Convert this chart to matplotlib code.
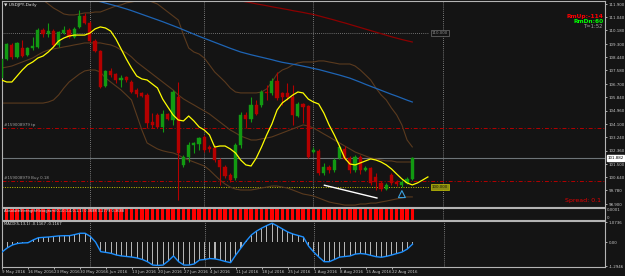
import matplotlib
matplotlib.use("Agg")
import matplotlib.pyplot as plt
import matplotlib.transforms as mtrans
import numpy as np
import pandas as pd

# --- Colours ---
BG = "#141414"
FG = "#c8c8c8"
BULL = "#129a12"
BEAR = "#b40000"
TINY = 2.9

# --- Data ---
dates = pd.bdate_range("2016-05-09", "2016-08-26")

open_ = [107.09, 108.33, 109.24, 108.46, 109.04, 108.59, 109.04, 109.11, 110.21, 109.95,
         110.14, 109.24, 110.01, 110.21, 109.76, 110.41, 111.12, 110.67, 109.50, 108.85,
         106.57, 107.55, 107.35, 106.96, 107.16, 106.83, 106.31, 106.12, 105.98, 104.23,
         104.69, 103.91, 104.75, 104.36, 105.85, 101.44, 101.96, 102.74, 102.80, 103.26,
         102.61, 102.54, 101.76, 101.31, 100.79, 100.59, 102.74, 104.69, 104.43, 105.33,
         105.33, 106.18, 106.12, 106.90, 106.12, 106.12, 105.85, 104.62, 105.40, 105.27,
         102.28, 102.35, 100.92, 101.31, 101.11, 101.89, 102.48, 101.89, 101.11, 101.96,
         101.11, 101.24, 100.66, 100.27, 99.88, 100.79, 100.33, 100.14, 100.27, 100.53]
high = [108.39, 109.37, 109.37, 109.43, 109.56, 109.11, 109.76, 110.34, 110.34, 110.67,
        110.28, 110.14, 110.47, 110.34, 110.41, 111.51, 111.32, 110.80, 109.63, 108.91,
        107.61, 107.74, 107.42, 107.29, 107.22, 106.96, 106.44, 106.18, 106.12, 104.82,
        104.82, 105.01, 104.82, 106.31, 106.83, 102.09, 102.93, 102.93, 103.26, 103.39,
        102.74, 102.74, 101.89, 101.44, 100.92, 102.87, 104.88, 104.88, 105.85, 105.66,
        106.31, 106.64, 107.09, 107.48, 106.18, 106.77, 106.64, 105.53, 105.47, 105.33,
        102.61, 102.48, 101.57, 101.44, 101.89, 102.74, 102.67, 102.02, 102.09, 102.09,
        101.37, 101.31, 100.92, 100.40, 100.27, 100.92, 100.46, 100.46, 100.66, 101.96]
low = [106.96, 108.26, 108.33, 108.39, 108.46, 108.52, 108.91, 109.04, 109.76, 109.76,
       109.11, 109.11, 109.95, 109.69, 109.69, 110.34, 110.60, 109.43, 108.78, 106.44,
       106.51, 107.16, 106.77, 106.51, 106.83, 106.12, 105.85, 105.85, 103.84, 103.84,
       103.84, 103.58, 104.36, 104.04, 99.16, 101.31, 101.63, 102.22, 102.41, 102.28,
       102.28, 101.63, 100.14, 100.59, 100.33, 100.46, 102.54, 103.84, 104.23, 104.69,
       105.20, 105.66, 105.98, 105.66, 105.33, 105.66, 104.04, 104.56, 104.17, 101.90,
       102.22, 100.79, 100.79, 100.92, 100.98, 101.83, 101.76, 100.92, 100.98, 100.85,
       101.05, 100.14, 99.81, 99.75, 99.81, 100.14, 100.08, 100.01, 100.20, 100.46]
close = [108.33, 109.30, 108.46, 109.37, 108.52, 109.04, 109.17, 110.21, 109.95, 110.14,
         109.24, 110.08, 110.21, 109.76, 110.28, 111.12, 110.67, 109.50, 108.85, 106.51,
         107.55, 107.29, 106.96, 107.09, 106.96, 106.18, 106.05, 105.92, 104.17, 104.04,
         103.91, 104.75, 104.43, 106.18, 102.22, 101.96, 102.74, 102.87, 103.19, 102.41,
         102.48, 101.76, 101.31, 100.72, 100.46, 102.74, 104.69, 104.43, 105.33, 104.75,
         106.18, 106.12, 106.90, 105.79, 105.85, 105.85, 104.69, 105.40, 105.20, 101.96,
         102.41, 100.92, 101.31, 101.11, 101.76, 102.61, 101.83, 101.11, 101.96, 101.11,
         101.24, 100.27, 100.33, 99.88, 100.14, 100.27, 100.20, 100.33, 100.53, 101.88]

# yellow MA is shifted 3 bars forward, so it has 83 points
ma_fast = [106.96, 106.83, 106.83, 107.22, 107.61, 107.94, 108.13, 108.39, 108.52, 108.78,
           109.11, 109.50, 109.69, 109.82, 109.88, 109.88, 109.88, 110.01, 110.28, 110.41,
           110.34, 110.14, 109.63, 108.98, 108.33, 107.74, 107.22, 107.03, 106.96, 106.70,
           106.44, 105.72, 105.20, 104.69, 104.36, 104.30, 104.62, 104.30, 103.91, 103.71,
           103.39, 102.60, 102.67, 102.67, 102.48, 102.22, 101.76, 101.44, 101.37, 101.89,
           102.60, 103.39, 104.10, 105.01, 105.47, 105.72, 105.98, 106.18, 106.12, 105.72,
           105.53, 105.40, 104.81, 104.04, 103.39, 102.67, 101.89, 101.50, 101.44, 101.57,
           101.70, 101.83, 101.76, 101.63, 101.44, 101.18, 100.85, 100.53, 100.27, 100.14,
           100.27, 100.46, 100.66]

ma_blue = [np.nan] * 16 + [
    112.30, 112.20, 112.13, 112.05, 111.96, 111.87, 111.78, 111.68, 111.58, 111.47,
    111.35, 111.23, 111.11, 110.99, 110.87, 110.75, 110.62, 110.49, 110.36, 110.22,
    110.08, 109.94, 109.80, 109.67, 109.54, 109.41, 109.28, 109.15, 109.02, 108.90,
    108.78, 108.69, 108.60, 108.52, 108.44, 108.36, 108.28, 108.19, 108.11, 108.05,
    107.99, 107.93, 107.86, 107.79, 107.71, 107.64, 107.55, 107.46, 107.37, 107.28,
    107.18, 107.08, 106.95, 106.82, 106.68, 106.55, 106.42, 106.29, 106.16, 106.03,
    105.91, 105.78, 105.65, 105.53]

ma_red = [np.nan] * 44 + [
    112.25, 112.18, 112.10, 112.04, 111.98, 111.91, 111.85, 111.79, 111.72, 111.66,
    111.60, 111.54, 111.47, 111.41, 111.35, 111.28, 111.22, 111.13, 111.04, 110.95,
    110.86, 110.76, 110.67, 110.57, 110.47, 110.37, 110.27, 110.17, 110.07, 109.97,
    109.87, 109.77, 109.68, 109.59, 109.51, 109.43]

bb_upper = [112.60, 112.60, 112.60, 112.60, 112.60, 112.60, 112.60, 112.60, 112.16, 111.90,
            111.64, 111.45, 111.25, 111.19, 111.19, 111.25, 111.32, 111.32, 111.38, 111.38,
            111.51, 111.64, 111.77, 111.84, 111.97, 112.03, 112.10, 112.16, 112.16, 112.03,
            111.90, 111.64, 111.38, 111.12, 110.86, 109.89, 109.04, 108.78, 108.65, 108.39,
            107.94, 107.48, 107.16, 106.83, 106.44, 106.18, 106.12, 106.12, 106.12, 106.12,
            106.18, 106.38, 106.83, 107.35, 107.61, 107.74, 107.94, 108.07, 108.13, 108.13,
            108.13, 108.20, 108.20, 108.13, 108.07, 108.00, 108.00, 108.00, 107.87, 107.61,
            107.29, 106.96, 106.44, 105.99, 105.66, 105.14, 104.69, 104.04, 103.06, 102.61]
bb_mid = [107.74, 107.80, 107.87, 108.00, 108.13, 108.26, 108.39, 108.59, 108.78, 108.91,
          108.98, 109.04, 109.11, 109.17, 109.24, 109.30, 109.37, 109.37, 109.37, 109.37,
          109.30, 109.24, 109.11, 108.91, 108.72, 108.46, 108.13, 107.87, 107.61, 107.35,
          107.09, 106.83, 106.57, 106.31, 105.99, 105.73, 105.53, 105.34, 105.14, 104.95,
          104.75, 104.49, 104.23, 103.97, 103.71, 103.52, 103.32, 103.19, 103.06, 103.06,
          103.13, 103.19, 103.26, 103.39, 103.52, 103.65, 103.78, 103.91, 104.04, 103.97,
          103.84, 103.65, 103.45, 103.26, 103.06, 102.87, 102.67, 102.48, 102.28, 102.15,
          102.02, 101.89, 101.83, 101.76, 101.70, 101.70, 101.63, 101.63, 101.63, 101.63]
bb_lower = [105.46, 105.46, 105.46, 105.46, 105.46, 105.46, 105.46, 105.46, 105.46, 105.53,
            105.66, 105.99, 106.44, 106.83, 107.09, 107.35, 107.55, 107.61, 107.61, 107.48,
            107.09, 106.83, 106.57, 106.31, 105.99, 105.66, 104.69, 103.71, 102.87, 102.67,
            102.48, 102.36, 102.28, 102.22, 102.09, 101.89, 101.76, 101.63, 101.50, 101.37,
            101.11, 100.78, 100.46, 100.20, 100.00, 99.87, 99.81, 99.81, 99.81, 99.87,
            99.94, 100.00, 100.07, 100.07, 100.00, 99.94, 99.81, 99.68, 99.55, 99.49,
            99.42, 99.29, 99.16, 99.03, 98.96, 98.90, 98.83, 98.83, 98.83, 98.90,
            98.90, 98.96, 98.96, 99.03, 99.09, 99.16, 99.23, 99.29, 99.36, 99.36]

macd = [-0.54, -0.32, -0.16, -0.08, -0.05, -0.04, 0.11, 0.23, 0.25, 0.27,
        0.30, 0.33, 0.34, 0.34, 0.40, 0.47, 0.47, 0.30, 0.00, -0.52,
        -0.56, -0.61, -0.70, -0.75, -0.78, -0.81, -0.86, -0.94, -1.06, -1.24,
        -1.26, -1.24, -1.02, -0.75, -1.06, -1.24, -1.24, -1.18, -0.97, -0.94,
        -0.89, -0.91, -0.97, -1.05, -1.11, -0.70, -0.32, 0.05, 0.38, 0.59,
        0.75, 0.89, 1.01, 0.86, 0.70, 0.54, 0.43, 0.35, 0.27, -0.22,
        -0.54, -0.81, -1.06, -1.06, -0.94, -0.81, -0.78, -0.75, -0.65, -0.62,
        -0.65, -0.72, -0.79, -0.82, -0.77, -0.70, -0.62, -0.54, -0.38, -0.12]

strength = [1.0] * len(dates)   # every bar of the histogram is full height

price_ticks = [111.900, 111.040, 110.180, 109.300, 108.440, 107.580, 106.700, 105.840,
               104.960, 104.100, 103.240, 102.360, 101.500, 100.640, 99.780, 98.900]
bid = 101.882
tp_level = 103.84
buy_level = 100.39
hline_grey = 110.000
hline_yellow = 100.000
future_separator = 85

# --- Figure ---
fig = plt.figure(figsize=(6.25, 2.76), dpi=100, facecolor=BG)
W, H = 625, 276


def px_axes(x0, y0, x1, y1):
    return fig.add_axes([x0 / W, 1 - y1 / H, (x1 - x0) / W, (y1 - y0) / H])


ax = px_axes(2, 1, 605, 207)
axh = px_axes(2, 208, 605, 220)
axm = px_axes(2, 221, 605, 267)

idx = np.arange(len(dates))
xlim = (0.1, 116.06)
seps = [i for i in range(1, len(dates)) if dates[i].month != dates[i - 1].month] + [future_separator]

for a in (ax, axh, axm):
    a.set_facecolor(BG)
    a.set_xlim(*xlim)
    for s in a.spines.values():
        s.set_color("#b4b4b4")
        s.set_linewidth(0.8)
    a.yaxis.tick_right()
    a.tick_params(axis="y", colors=FG, labelsize=TINY, length=1.5, width=0.6, pad=1)
    a.tick_params(axis="x", bottom=False, labelbottom=False)
    for sx in seps:
        a.axvline(sx, color="#9a9a9a", lw=0.6, ls=(0, (1, 1.5)), zorder=1)

# main window
ax.set_ylim(98.705, 112.095)
ax.set_yticks(price_ticks)
ax.set_yticklabels([f"{t:.3f}" for t in price_ticks])

ax.plot(idx, bb_upper, color="#5a3a1e", lw=0.8, zorder=2)
ax.plot(idx, bb_mid, color="#5a3a1e", lw=0.8, zorder=2)
ax.plot(idx, bb_lower, color="#5a3a1e", lw=0.8, zorder=2)
ax.plot(idx, ma_red, color="#8b0000", lw=0.9, zorder=2)
ax.plot(idx, ma_blue, color="#1e64b4", lw=0.9, zorder=2)

ax.axhline(tp_level, color="#b40000", lw=0.7, ls=(0, (4, 2, 1, 2)), zorder=1)
ax.axhline(buy_level, color="#b40000", lw=0.7, ls=(0, (4, 2, 1, 2)), zorder=1)
ax.axhline(bid, color="#6e7478", lw=0.8, zorder=1)
ax.plot([xlim[0], 82.3], [hline_grey] * 2, color="#8c8c8c", lw=0.6, ls=(0, (1, 1.5)), zorder=1)
ax.plot([xlim[0], 82.3], [hline_yellow] * 2, color="#c8c800", lw=0.7, ls=(0, (1, 1.5)), zorder=1)
ax.text(82.8, hline_grey, f"{hline_grey:.3f}", fontsize=TINY, color="#8c8c8c", va="center",
        bbox=dict(facecolor=BG, edgecolor="#6e6e6e", lw=0.5, pad=0.8))
ax.text(82.8, hline_yellow, f"{hline_yellow:.3f}", fontsize=TINY, color="#202000", va="center",
        bbox=dict(facecolor="#8c8c14", edgecolor="#c8c800", lw=0.5, pad=0.8))

o = np.array(open_)
c = np.array(close)
up = c >= o
cols = np.where(up, BULL, BEAR)
ax.vlines(idx, low, high, colors=cols, lw=0.8, zorder=3)
body = np.maximum(np.abs(c - o), 0.03)
ax.bar(idx, body, bottom=np.minimum(o, c), width=0.62, color=cols, edgecolor=cols, lw=0.3, zorder=4)

ax.plot(np.arange(len(ma_fast)), ma_fast, color="#ffff00", lw=0.9, zorder=5)

# user drawn trend line and arrow
ax.plot([62.1, 72.2], [100.12, 99.29], color="white", lw=1.0, zorder=6)
ax.annotate("", xy=(77.0, 99.95), xytext=(77.0, 99.2),
            arrowprops=dict(arrowstyle="simple,head_width=0.5,head_length=0.5,tail_width=0.25",
                            fc=BG, ec="#3ca0dc", lw=0.8), zorder=6)

tb = mtrans.blended_transform_factory(ax.transAxes, ax.transData)
ax.text(0.004, tp_level + 0.06, "#159008979 tp", fontsize=TINY, color="#a0a0a0", transform=tb, va="bottom")
ax.text(0.004, buy_level + 0.06, "#159008979 Buy 0.18", fontsize=TINY, color="#a0a0a0", transform=tb,
        va="bottom")
ax.text(1.004, bid, f"{bid:.3f}", fontsize=TINY, color="black", transform=tb, va="center", ha="left",
        bbox=dict(facecolor="white", edgecolor="white", pad=0.5), clip_on=False)

ax.text(0.003, 0.988, "\u25bc USDJPY,Daily", fontsize=3.2, color="#e0e0e0", transform=ax.transAxes, va="top")
ax.text(0.998, 0.925, "RmUp:-114", fontsize=4.2, color="#ff0000", transform=ax.transAxes, ha="right",
        va="center", fontweight="bold")
ax.text(0.998, 0.899, "RmDn:60", fontsize=4.2, color="#00ff00", transform=ax.transAxes, ha="right",
        va="center", fontweight="bold")
ax.text(0.998, 0.875, "T=1:52", fontsize=3.8, color="#a0a0a0", transform=ax.transAxes, ha="right",
        va="center")
ax.text(0.993, 0.03, "Spread: 0.1", fontsize=4.5, color="#e60000", transform=ax.transAxes, ha="right",
        va="center")

# strength histogram window
axh.set_ylim(0, 1)
axh.bar(idx, strength, width=0.68, color="#ff0000", zorder=2)
axh.set_yticks([0.85, 0.2])
axh.set_yticklabels(["0.0001", "0"])
axh.tick_params(axis="y", length=0)
axh.text(0.003, 0.88, "AbsoluteStrengthHistogram(0,10,0,4,0,1,1) 0.3688 0.2779 0.3688", fontsize=2.6,
         color="#e0e0e0", transform=axh.transAxes, va="top", zorder=5)

# MACD window
axm.set_ylim(-1.345, 1.13)
axm.bar(idx, macd, width=0.2, color="#b4b4b4", zorder=2)
axm.plot(idx, macd, color="#1e90ff", lw=1.0, zorder=3)
axm.set_yticks([1.0736, 0.0, -1.2946])
axm.set_yticklabels(["1.0736", "0.00", "-1.2946"])
axm.text(0.003, 0.97, "MACD(5,13,1) -0.1167 -0.1167", fontsize=2.7, color="#e0e0e0",
         transform=axm.transAxes, va="top")

mondays = [i for i in idx if dates[i].weekday() == 0]
axm.set_xticks(mondays)
axm.set_xticklabels([f"{dates[i].day} {dates[i]:%b %Y}" for i in mondays])
axm.tick_params(axis="x", bottom=True, labelbottom=True, colors=FG, labelsize=TINY,
                length=1.5, width=0.6, pad=1)
for lbl in axm.get_xticklabels():
    lbl.set_ha("left")

fig.savefig("out.png", dpi=100, facecolor=BG)
